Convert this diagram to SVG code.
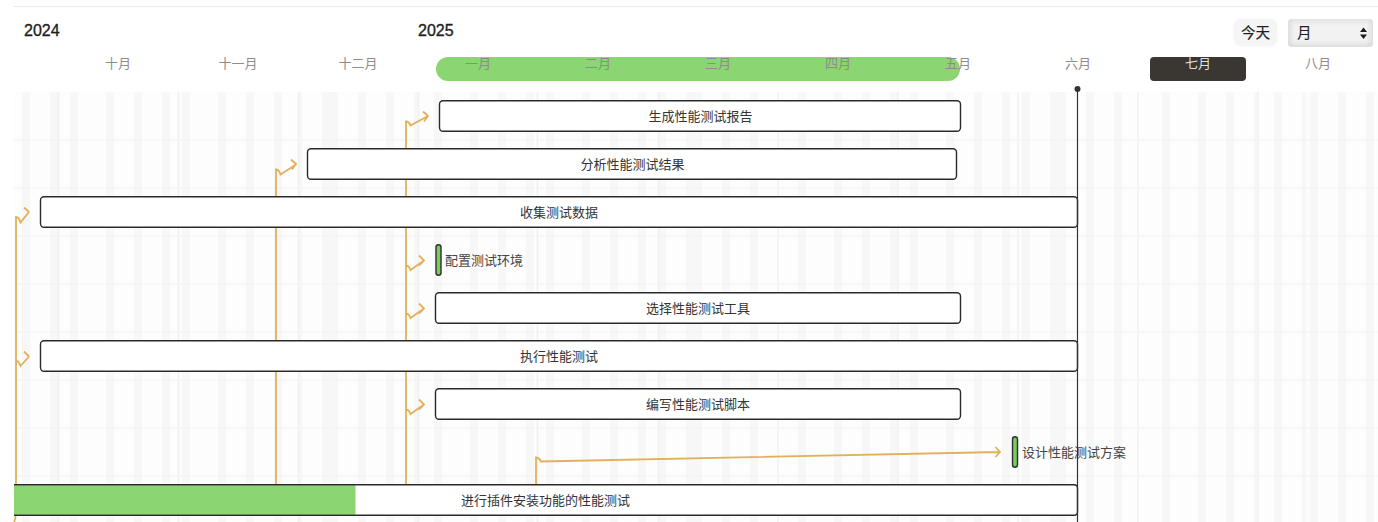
<svg xmlns="http://www.w3.org/2000/svg" width="1378" height="522" viewBox="0 0 1378 522">
<style>
text{font-family:"Liberation Sans","Noto Sans CJK SC",sans-serif;opacity:.99}
.yr{font-size:16px;fill:#1c1c1c;stroke:#1c1c1c;stroke-width:.35}
.ctl{font-size:14.500px;fill:#1c1c1c;stroke:#1c1c1c;stroke-width:.15}
.mo{font-size:13px;fill:#8c8c8c;text-anchor:middle}
.lb{font-size:13px;fill:#333;text-anchor:middle}
.ls{font-size:13px;fill:#444}
.bar{fill:#fff;stroke:#2a2a2a;stroke-width:1.400}
.ms{fill:#78cc5c;stroke:#2f2f2f;stroke-width:1.400}
.st{fill:#f7f7f8}
.ml{stroke:#f0f0f1;stroke-width:1.500}
.hl{stroke:#f3f4f5;stroke-width:1.500}
.cn{fill:none;stroke:#e0b15a;stroke-width:1.800}
</style>
<defs>
<linearGradient id="sel" x1="0" y1="0" x2="0" y2="1"><stop offset="0" stop-color="#e4e4e4"/><stop offset=".25" stop-color="#f2f2f2"/><stop offset=".75" stop-color="#f2f2f2"/><stop offset="1" stop-color="#dedede"/></linearGradient>
<linearGradient id="selh" x1="0" y1="0" x2="1" y2="0"><stop offset="0" stop-color="#d8d8d8" stop-opacity=".7"/><stop offset=".08" stop-color="#d8d8d8" stop-opacity="0"/><stop offset=".92" stop-color="#d8d8d8" stop-opacity="0"/><stop offset="1" stop-color="#d8d8d8" stop-opacity=".7"/></linearGradient>
</defs>
<rect width="1378" height="522" fill="#fff"/>
<line x1="14" y1="6.500" x2="1378" y2="6.500" stroke="#e8eaed" stroke-width="1"/>
<g id="grid">
<rect x="14" y="92" width="1364" height="430" fill="#fdfdfd"/>
<g class="st">
<rect x="22" y="92" width="8" height="430"/><rect x="50" y="92" width="8" height="430"/><rect x="70" y="92" width="8" height="430"/><rect x="106" y="92" width="8" height="430"/><rect x="134" y="92" width="8" height="430"/><rect x="162" y="92" width="8" height="430"/><rect x="182" y="92" width="8" height="430"/><rect x="218" y="92" width="8" height="430"/><rect x="246" y="92" width="8" height="430"/><rect x="274" y="92" width="8" height="430"/><rect x="298" y="92" width="4" height="430"/><rect x="322" y="92" width="16" height="430"/><rect x="358" y="92" width="8" height="430"/><rect x="386" y="92" width="8" height="430"/><rect x="414" y="92" width="4" height="430"/><rect x="434" y="92" width="8" height="430"/><rect x="470" y="92" width="8" height="430"/><rect x="498" y="92" width="8" height="430"/><rect x="526" y="92" width="8" height="430"/><rect x="546" y="92" width="8" height="430"/><rect x="582" y="92" width="8" height="430"/><rect x="610" y="92" width="8" height="430"/><rect x="638" y="92" width="8" height="430"/><rect x="658" y="92" width="8" height="430"/><rect x="686" y="92" width="16" height="430"/><rect x="722" y="92" width="8" height="430"/><rect x="750" y="92" width="8" height="430"/><rect x="798" y="92" width="8" height="430"/><rect x="834" y="92" width="8" height="430"/><rect x="862" y="92" width="8" height="430"/><rect x="890" y="92" width="8" height="430"/><rect x="910" y="92" width="8" height="430"/><rect x="946" y="92" width="8" height="430"/><rect x="974" y="92" width="8" height="430"/><rect x="1002" y="92" width="8" height="430"/><rect x="1022" y="92" width="8" height="430"/><rect x="1050" y="92" width="16" height="430"/><rect x="1086" y="92" width="8" height="430"/><rect x="1114" y="92" width="8" height="430"/><rect x="1162" y="92" width="8" height="430"/><rect x="1198" y="92" width="8" height="430"/><rect x="1226" y="92" width="8" height="430"/><rect x="1254" y="92" width="4" height="430"/><rect x="1274" y="92" width="8" height="430"/><rect x="1302" y="92" width="4" height="430"/><rect x="1310" y="92" width="8" height="430"/><rect x="1338" y="92" width="8" height="430"/><rect x="1366" y="92" width="8" height="430"/>
</g>
<g class="ml">
<line x1="58.500" y1="92" x2="58.500" y2="522"/><line x1="178.500" y1="92" x2="178.500" y2="522"/><line x1="298.500" y1="92" x2="298.500" y2="522"/><line x1="418.500" y1="92" x2="418.500" y2="522"/><line x1="537.500" y1="92" x2="537.500" y2="522"/><line x1="658.500" y1="92" x2="658.500" y2="522"/><line x1="778" y1="92" x2="778" y2="522"/><line x1="898" y1="92" x2="898" y2="522"/><line x1="1018" y1="92" x2="1018" y2="522"/><line x1="1138" y1="92" x2="1138" y2="522"/><line x1="1258" y1="92" x2="1258" y2="522"/>
</g>
<g class="hl">
<line x1="14" y1="140" x2="1378" y2="140"/><line x1="14" y1="188" x2="1378" y2="188"/><line x1="14" y1="236" x2="1378" y2="236"/><line x1="14" y1="284" x2="1378" y2="284"/><line x1="14" y1="332" x2="1378" y2="332"/><line x1="14" y1="380" x2="1378" y2="380"/><line x1="14" y1="428" x2="1378" y2="428"/><line x1="14" y1="476" x2="1378" y2="476"/>
</g>
</g>
<g id="header">
<text class="yr" x="24" y="35.500">2024</text>
<text class="yr" x="418" y="35.500">2025</text>
<rect x="436" y="57" width="524" height="24" rx="12" fill="#8bd672"/>
<rect x="1150" y="57" width="96" height="24" rx="4" fill="#3a3631"/>
<text class="mo" x="118" y="68">十月</text><text class="mo" x="238" y="68">十一月</text><text class="mo" x="358" y="68">十二月</text><text class="mo" x="478" y="68">一月</text><text class="mo" x="598" y="68">二月</text><text class="mo" x="718" y="68">三月</text><text class="mo" x="838" y="68">四月</text><text class="mo" x="958" y="68">五月</text><text class="mo" x="1078" y="68">六月</text><text class="mo" x="1198" y="68" style="fill:#e4e4e4">七月</text><text class="mo" x="1318" y="68">八月</text>
</g>
<g id="today-button">
<rect x="1233.500" y="18.500" width="44" height="28" rx="8" fill="#f5f5f5"/>
<text class="ctl" x="1255.500" y="37.500" text-anchor="middle">今天</text>
</g>
<g id="view-select">
<rect x="1288" y="19" width="85" height="28" rx="4" fill="url(#sel)"/>
<rect x="1288" y="19" width="85" height="28" rx="4" fill="url(#selh)"/>
<text class="ctl" x="1297" y="38">月</text>
<polygon points="1360,32 1367,32 1363.500,27.500" fill="#1c1c1c"/>
<polygon points="1360,34.500 1367,34.500 1363.500,39" fill="#1c1c1c"/>
</g>
<g id="connectors">
<path class="cn" d="M406 484V121.500Q409 121.500 410.500 125.500L428 116M423 111.500L428 116L424 121.500"/>
<path class="cn" d="M276 484V169.500Q279 169.500 280.500 174.500L296 164.500M291 159.500L296 164L292 169.500"/>
<path class="cn" d="M16 484V217Q19 217 20.500 222.500L29 212M24 207.500L29 212"/>
<path class="cn" d="M406 265.500Q409 265.500 410.500 270L424 260.500M419 255.500L424 260.500L419 265.500"/>
<path class="cn" d="M406 313.500Q409 313.500 410.500 318L424 308.500M419 303.500L424 308.500L419 313.500"/>
<path class="cn" d="M16 361Q19 361 20.500 366L29 356.500M24 351.500L29 356.500"/>
<path class="cn" d="M406 409.500Q409 409.500 410.500 414L424 404.500M419 399.500L424 404.500L419 409.500"/>
<path class="cn" d="M536 484V457.500Q539 457.500 541 461.500L1000 452M995.500 447L1000 452L995.500 457"/>
<path class="cn" d="M15.500 516Q15.500 520 14 522"/>
</g>
<g id="task-report"><rect class="bar" x="439.500" y="100.700" width="521" height="30.600" rx="3.500"/><text class="lb" x="700.500" y="121">生成性能测试报告</text></g>
<g id="task-analyse"><rect class="bar" x="307.500" y="148.700" width="649" height="30.600" rx="3.500"/><text class="lb" x="632.500" y="169">分析性能测试结果</text></g>
<g id="task-collect"><rect class="bar" x="40.500" y="196.700" width="1037" height="30.600" rx="3.500"/><text class="lb" x="559" y="217">收集测试数据</text></g>
<g id="task-env"><rect class="ms" x="436" y="244.700" width="5" height="30.600" rx="2.500"/><text class="ls" x="445" y="265">配置测试环境</text></g>
<g id="task-tool"><rect class="bar" x="435.500" y="292.700" width="525" height="30.600" rx="3.500"/><text class="lb" x="698" y="313">选择性能测试工具</text></g>
<g id="task-run"><rect class="bar" x="40.500" y="340.700" width="1037" height="30.600" rx="3.500"/><text class="lb" x="559" y="361">执行性能测试</text></g>
<g id="task-script"><rect class="bar" x="435.500" y="388.700" width="525" height="30.600" rx="3.500"/><text class="lb" x="698" y="409">编写性能测试脚本</text></g>
<g id="task-design"><rect class="ms" x="1012.500" y="436.700" width="5" height="30.600" rx="2.500"/><text class="ls" x="1022" y="457">设计性能测试方案</text></g>
<g id="task-main"><rect x="14" y="484.700" width="1063.500" height="30.600" rx="0" fill="#fff"/><rect x="14" y="485.300" width="341.500" height="29.400" rx="1" fill="#8bd672"/><path d="M14 484.700H1074Q1077.500 484.700 1077.500 488.200V511.800Q1077.500 515.300 1074 515.300H14" fill="none" stroke="#2a2a2a" stroke-width="1.400"/><text class="lb" x="545.500" y="505">进行插件安装功能的性能测试</text></g>
<g id="today-line"><line x1="1077.500" y1="89" x2="1077.500" y2="522" stroke="#333" stroke-width="1.200"/><circle cx="1077.500" cy="89" r="3" fill="#333"/></g>
</svg>
